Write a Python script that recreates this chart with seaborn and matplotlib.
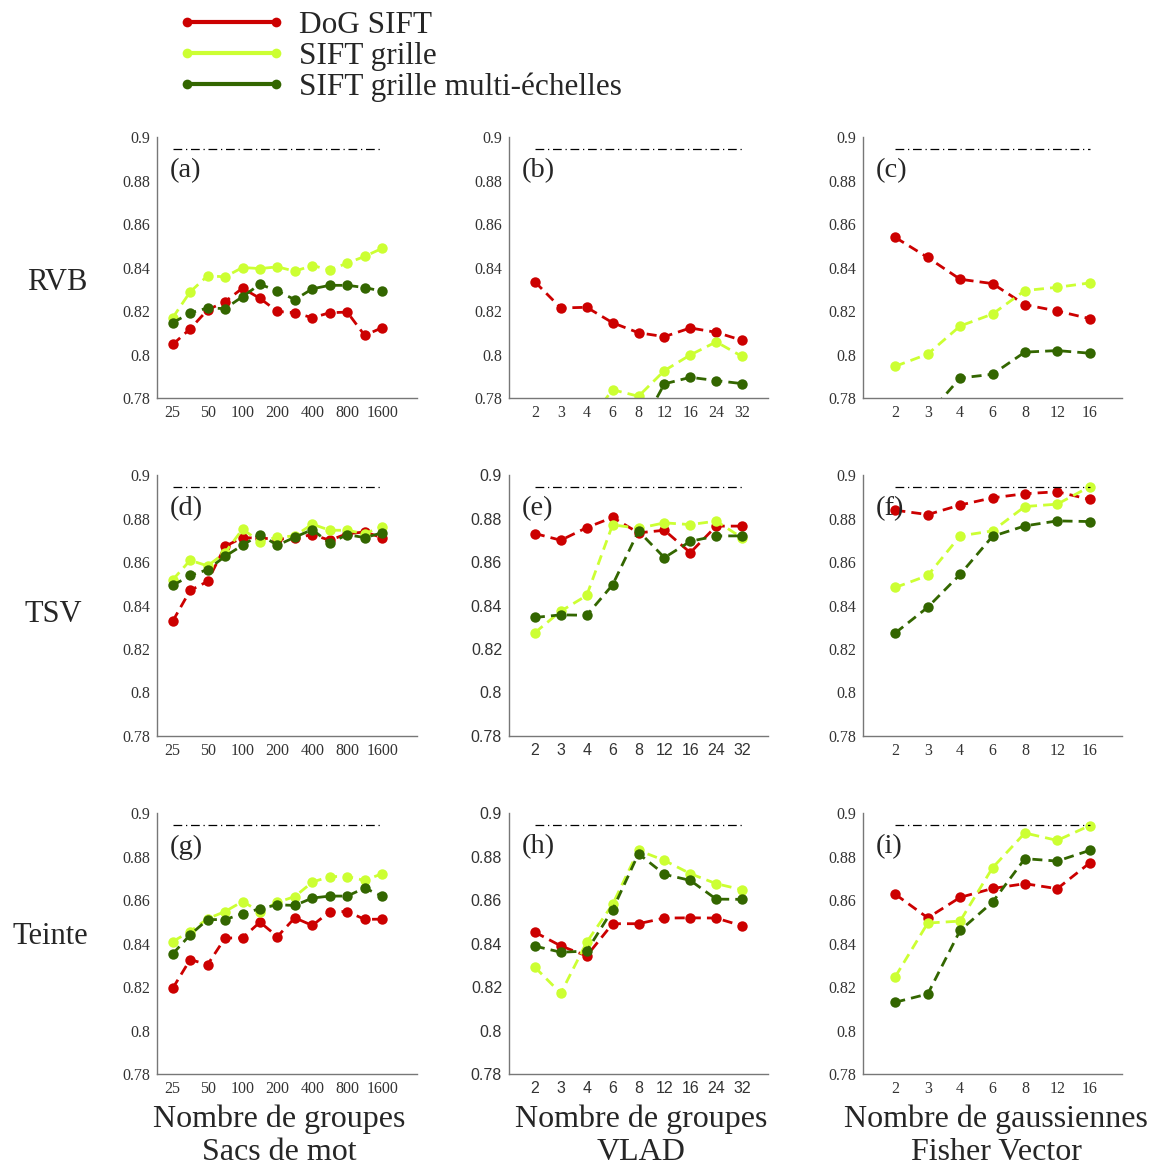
import numpy as np
import pandas as pd
import matplotlib
matplotlib.use("Agg")
import matplotlib.pyplot as plt
import seaborn as sns
from matplotlib.lines import Line2D

# --- data -------------------------------------------------------------------
series_names = ["DoG SIFT", "SIFT grille", "SIFT grille multi-échelles"]
series_colors = ["#cc0000", "#ccff33", "#336600"]

bow_ticks = ["25", "", "50", "", "100", "", "200", "", "400", "", "800", "", "1600"]
vlad_ticks = ["2", "3", "4", "6", "8", "12", "16", "24", "32"]
fv_ticks = ["2", "3", "4", "6", "8", "12", "16"]

y_ticks = [0.78, 0.80, 0.82, 0.84, 0.86, 0.88, 0.90]
y_tick_labels = ["0.78", "0.8", "0.82", "0.84", "0.86", "0.88", "0.9"]
reference_level = 0.8945

# row RVB
a_dog = [0.8046, 0.8118, 0.8205, 0.8243, 0.8305, 0.8258, 0.8198, 0.8192, 0.8169, 0.8192, 0.8195, 0.8088, 0.8123]
a_grid = [0.8169, 0.8288, 0.8362, 0.8357, 0.8400, 0.8395, 0.8403, 0.8383, 0.8409, 0.8389, 0.8420, 0.8451, 0.8488]
a_multi = [0.8146, 0.8191, 0.8214, 0.8211, 0.8266, 0.8323, 0.8292, 0.8252, 0.8302, 0.8318, 0.8318, 0.8308, 0.8291]

b_dog = [0.8334, 0.8214, 0.8217, 0.8146, 0.8100, 0.8082, 0.8122, 0.8102, 0.8065]
b_grid = [0.765, 0.763, 0.768, 0.7838, 0.7808, 0.7926, 0.7998, 0.8058, 0.7991]
b_multi = [0.755, 0.756, 0.758, 0.760, 0.7646, 0.7865, 0.7895, 0.7880, 0.7866]

c_dog = [0.8538, 0.8446, 0.8346, 0.8326, 0.8229, 0.8200, 0.8165]
c_grid = [0.7946, 0.8002, 0.8131, 0.8186, 0.8294, 0.8309, 0.8329]
c_multi = [0.765, 0.7722, 0.7892, 0.7909, 0.8011, 0.8018, 0.8006]

# row TSV
d_dog = [0.8328, 0.8469, 0.8511, 0.8672, 0.8712, 0.8710, 0.8705, 0.8710, 0.8726, 0.8700, 0.8730, 0.8738, 0.8712]
d_grid = [0.8518, 0.8608, 0.8582, 0.8643, 0.8751, 0.8694, 0.8714, 0.8720, 0.8774, 0.8746, 0.8746, 0.8730, 0.8763]
d_multi = [0.8492, 0.8538, 0.8565, 0.8626, 0.8677, 0.8726, 0.8677, 0.8714, 0.8749, 0.8686, 0.8726, 0.8712, 0.8734]

e_dog = [0.8731, 0.8700, 0.8758, 0.8805, 0.8734, 0.8746, 0.8643, 0.8765, 0.8765]
e_grid = [0.8275, 0.8374, 0.8446, 0.8771, 0.8755, 0.8780, 0.8772, 0.8788, 0.8711]
e_multi = [0.8345, 0.8357, 0.8355, 0.8495, 0.8742, 0.8620, 0.8695, 0.8720, 0.8720]

f_dog = [0.8838, 0.8818, 0.8862, 0.8895, 0.8914, 0.8923, 0.8888]
f_grid = [0.8483, 0.8538, 0.8720, 0.8743, 0.8855, 0.8866, 0.8946]
f_multi = [0.8274, 0.8392, 0.8543, 0.8718, 0.8766, 0.8789, 0.8786]

# row Teinte
g_dog = [0.8194, 0.8326, 0.8303, 0.8425, 0.8426, 0.8498, 0.8432, 0.8518, 0.8483, 0.8546, 0.8547, 0.8511, 0.8512]
g_grid = [0.8409, 0.8455, 0.8514, 0.8547, 0.8593, 0.8547, 0.8589, 0.8616, 0.8682, 0.8708, 0.8708, 0.8690, 0.8721]
g_multi = [0.8352, 0.8440, 0.8510, 0.8510, 0.8537, 0.8560, 0.8578, 0.8575, 0.8609, 0.8618, 0.8618, 0.8655, 0.8618]

h_dog = [0.8452, 0.8389, 0.8343, 0.8491, 0.8491, 0.8517, 0.8518, 0.8517, 0.8481]
h_grid = [0.8291, 0.8171, 0.8406, 0.8580, 0.8828, 0.8782, 0.8721, 0.8675, 0.8647]
h_multi = [0.8388, 0.8360, 0.8365, 0.8555, 0.8813, 0.8718, 0.8690, 0.8604, 0.8603]

i_dog = [0.8626, 0.8518, 0.8612, 0.8653, 0.8675, 0.8652, 0.8770]
i_grid = [0.8248, 0.8494, 0.8503, 0.8748, 0.8908, 0.8874, 0.8942]
i_multi = [0.8130, 0.8168, 0.8460, 0.8590, 0.8790, 0.8779, 0.8828]

row_labels = ["RVB", "TSV", "Teinte"]
col_labels = [("Nombre de groupes", "Sacs de mot"),
              ("Nombre de groupes", "VLAD"),
              ("Nombre de gaussiennes", "Fisher Vector")]

panels = [
    ("(a)", bow_ticks, (a_dog, a_grid, a_multi)),
    ("(b)", vlad_ticks, (b_dog, b_grid, b_multi)),
    ("(c)", fv_ticks, (c_dog, c_grid, c_multi)),
    ("(d)", bow_ticks, (d_dog, d_grid, d_multi)),
    ("(e)", vlad_ticks, (e_dog, e_grid, e_multi)),
    ("(f)", fv_ticks, (f_dog, f_grid, f_multi)),
    ("(g)", bow_ticks, (g_dog, g_grid, g_multi)),
    ("(h)", vlad_ticks, (h_dog, h_grid, h_multi)),
    ("(i)", fv_ticks, (i_dog, i_grid, i_multi)),
]
sans_tick_panels = ["(e)", "(h)"]

# --- figure -------------------------------------------------------------------
sns.set_style("white")
plt.rcParams["font.family"] = ["Liberation Serif", "DejaVu Serif"]

W, H = 1155, 1171
fig = plt.figure(figsize=(W / 100, H / 100), dpi=100)

col_left = [157, 509, 863]
col_width = [260, 259, 259]
row_top = [137, 475, 813]
ax_height = 261

for k, (tag, xt, values) in enumerate(panels):
    r, c = divmod(k, 3)
    ax = fig.add_axes([col_left[c] / W, 1 - (row_top[r] + ax_height) / H,
                       col_width[c] / W, ax_height / H])
    n = len(xt)
    idx = np.arange(n)
    for name, color, vals in zip(series_names, series_colors, values):
        df = pd.DataFrame({"x": idx, "y": vals})
        sns.lineplot(data=df, x="x", y="y", ax=ax, color=color, lw=2.0,
                     linestyle=(0, (3.6, 2.2)), marker="o", markersize=7.5,
                     markeredgecolor=color, markeredgewidth=0)
    ax.hlines(reference_level, 0, n - 1, color="black", lw=0.9,
              linestyle=(0, (7, 3, 1, 3)))
    if n == 13:
        ax.set_xlim(-0.9, 14)
    else:
        ax.set_xlim(-1, n)
    ax.set_ylim(0.78, 0.9)
    ax.set_xticks(idx)
    ax.set_xticklabels(xt)
    ax.set_yticks(y_ticks)
    ax.set_yticklabels(y_tick_labels)
    ax.set_xlabel("")
    ax.set_ylabel("")
    family = ["Liberation Sans"] if tag in sans_tick_panels else ["Liberation Serif"]
    for lab in ax.get_xticklabels() + ax.get_yticklabels():
        lab.set_family(family)
        lab.set_fontsize(11.5)
        lab.set_color("#333333")
    ax.tick_params(axis="both", length=0, pad=5)
    sns.despine(ax=ax)
    for s in ("left", "bottom"):
        ax.spines[s].set_color("#777777")
        ax.spines[s].set_linewidth(1.0)
    ax.text(0.05, 0.87, tag, transform=ax.transAxes, fontsize=20.5,
            va="center", ha="left")

# row labels
row_y = [283, 615, 937]
row_x = [57, 53, 50]
for lab, x, y in zip(row_labels, row_x, row_y):
    fig.text(x / W, 1 - y / H, lab, fontsize=22, ha="center", va="center")

# column labels (second line kept just inside the bottom edge)
col_cx = [279, 641, 996]
for (l1, l2), x in zip(col_labels, col_cx):
    fig.text(x / W, 1 - 1119 / H, l1, fontsize=23, ha="center", va="center")
    fig.text(x / W, 1 - 1152 / H, l2, fontsize=23, ha="center", va="center")

# legend
handles = [Line2D([0], [0], color=c, lw=3, marker="o", markersize=7,
                  markeredgewidth=0) for c in series_colors]
fig.legend(handles, series_names, loc="upper left",
           bbox_to_anchor=(178 / W, 1 - 11 / H), frameon=False, fontsize=22.5,
           numpoints=2, handlelength=3.45, handletextpad=0.42,
           labelspacing=0.06, borderpad=0, borderaxespad=0)

fig.savefig("out.png", dpi=100, facecolor="white")
